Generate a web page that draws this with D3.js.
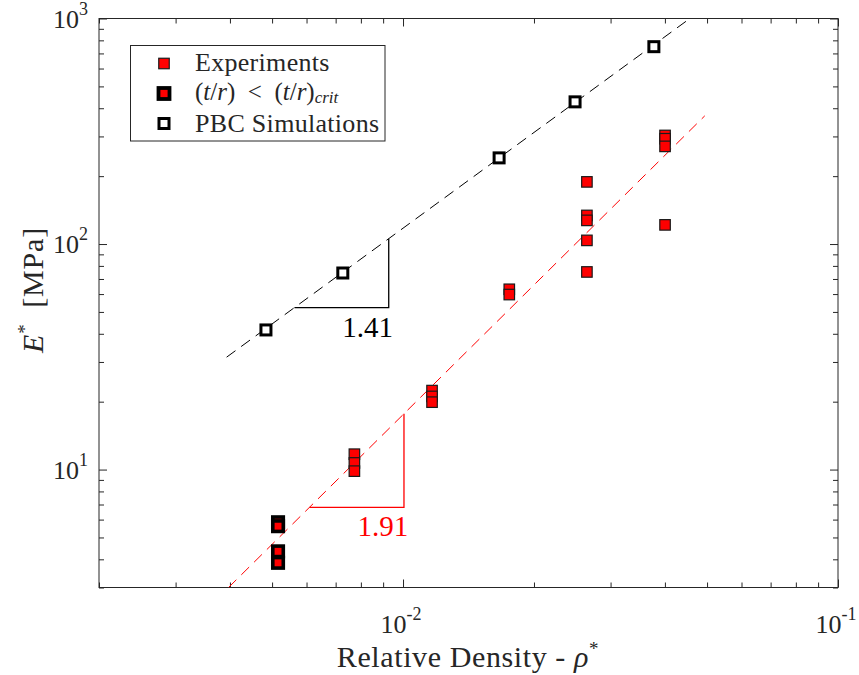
<!DOCTYPE html>
<html><head><meta charset="utf-8">
<script src="https://cdn.jsdelivr.net/npm/d3@7"></script>
<style>
body{margin:0;background:#fff}
svg{display:block}
text{font-family:"Liberation Serif","Times New Roman",serif;fill:#262626}
</style>
</head><body>
<svg id="chart" width="859" height="675"></svg>
<script>
// ---------- data ----------
const pbcDensity  = [0.00484, 0.00727, 0.01663, 0.02486, 0.03773];
const pbcModulus  = [41.6, 74.4, 241, 427, 750];

const expDensity  = [0.00773, 0.00773, 0.00773,
                     0.01166, 0.01166, 0.01166,
                     0.01755, 0.01755,
                     0.02647, 0.02647, 0.02647, 0.02647, 0.02647,
                     0.04003, 0.04003, 0.04003, 0.04003];
const expModulus  = [11.7, 10.7, 9.84,
                     22.4, 21.1, 19.9,
                     63.0, 59.7,
                     188.6, 133.9, 127.3, 103.8, 75.2,
                     303, 293, 271, 121.6];

const critDensity = [0.00516, 0.00516, 0.00516, 0.00516];
const critModulus = [5.84, 5.61, 4.34, 3.86];

// power-law fits: [PBC, Experiments]
const fitSlope        = [1.41, 1.91];
const fitStartDensity = [0.00393, 0.00397];
const fitStartModulus = [31.5, 3.0];
const fitEndDensity   = [0.06, 0.0494];
const fitColor        = ["#000000", "#ff0000"];
// slope triangles (x extent)
const triLeftDensity  = [0.005628, 0.006095];
const triRightDensity = [0.009271, 0.01005];

const xDomain = [0.002, 0.1];
const yDomain = [3, 1000];
const xTickValues = [0.01, 0.1];
const xTickExp    = ["-2", "-1"];
const yTickValues = [10, 100, 1000];
const yTickExp    = ["1", "2", "3"];

const legendLabels = ["Experiments", "crit", "PBC Simulations"];

// ---------- layout ----------
const svg = d3.select("#chart");
const L = 99, R = 838, T = 18.5, B = 587.5;
const x = d3.scaleLog().domain(xDomain).range([L, R]);
const y = d3.scaleLog().domain(yDomain).range([B, T]);
const axisColor = "#262626";

svg.append("defs").append("clipPath").attr("id","clip")
  .append("rect").attr("x",L).attr("y",T).attr("width",R-L).attr("height",B-T);

// ticks
const isMajor = v => Math.abs(Math.log10(v) - Math.round(Math.log10(v))) < 1e-9;
const xt = x.ticks(), yt = y.ticks();
const gAx = svg.append("g");
function tickAxis(axisFn, scale, vals, len, transform){
  gAx.append("g").attr("transform", transform)
    .call(axisFn(scale).tickValues(vals).tickSize(len).tickFormat(""))
    .call(g => g.select(".domain").remove())
    .call(g => g.selectAll("line").attr("stroke", axisColor).attr("stroke-width",1));
}
const xMaj = xt.filter(isMajor), xMin = xt.filter(v=>!isMajor(v));
const yMaj = yt.filter(isMajor), yMin = yt.filter(v=>!isMajor(v));
tickAxis(d3.axisBottom, x, xMaj, -8, `translate(0,${B})`);
tickAxis(d3.axisBottom, x, xMin, -5, `translate(0,${B})`);
tickAxis(d3.axisTop, x, xMaj, -8, `translate(0,${T})`);
tickAxis(d3.axisTop, x, xMin, -5, `translate(0,${T})`);
tickAxis(d3.axisLeft, y, yMaj, -8, `translate(${L},0)`);
tickAxis(d3.axisLeft, y, yMin, -5, `translate(${L},0)`);
tickAxis(d3.axisRight, y, yMaj, -8, `translate(${R},0)`);
tickAxis(d3.axisRight, y, yMin, -5, `translate(${R},0)`);

svg.append("rect").attr("x",L).attr("y",T).attr("width",R-L).attr("height",B-T)
  .attr("fill","none").attr("stroke",axisColor).attr("stroke-width",1);

// tick labels
xTickValues.forEach((v,i)=>{
  const t = svg.append("text").attr("x", x(v)-2).attr("y", 633).attr("text-anchor","middle")
    .style("font-size","26px");
  t.append("tspan").text("10");
  t.append("tspan").attr("dy",-13).style("font-size","18px").text(xTickExp[i]);
});
yTickValues.forEach((v,i)=>{
  const t = svg.append("text").attr("x", 88).attr("y", y(v)+9).attr("text-anchor","end")
    .style("font-size","26px");
  t.append("tspan").text("10");
  t.append("tspan").attr("dy",-13).style("font-size","18px").text(yTickExp[i]);
});

// axis titles
const xl = svg.append("text").attr("x", 468).attr("y", 667).attr("text-anchor","middle")
  .style("font-size","30px").style("letter-spacing","0.6px");
xl.append("tspan").text("Relative Density - ");
xl.append("tspan").style("font-style","italic").text("ρ");
xl.append("tspan").attr("dy",-12).style("font-size","19px").text("*");

const yl = svg.append("text").attr("transform","translate(43,290) rotate(-90)")
  .attr("text-anchor","middle").style("font-size","30px").style("letter-spacing","0.8px");
yl.append("tspan").style("font-style","italic").text("E");
yl.append("tspan").attr("dy",-12).style("font-size","19px").text("*");
yl.append("tspan").attr("dy",12).text("\u2002[MPa]");

// fit lines and slope triangles
const plot = svg.append("g").attr("clip-path","url(#clip)");
const lineGen = d3.line().x(d=>x(d[0])).y(d=>y(d[1]));
fitSlope.forEach((s,i)=>{
  const f = d => fitStartModulus[i]*Math.pow(d/fitStartDensity[i], s);
  plot.append("path")
    .attr("d", lineGen([[fitStartDensity[i], f(fitStartDensity[i])],[fitEndDensity[i], f(fitEndDensity[i])]]))
    .attr("fill","none").attr("stroke",fitColor[i]).attr("stroke-width",1)
    .attr("stroke-dasharray","11,7");
  const a = triLeftDensity[i], b = triRightDensity[i];
  svg.append("path")
    .attr("d", lineGen([[a, f(a)],[b, f(a)],[b, f(a)*Math.pow(b/a, s)]]))
    .attr("fill","none").attr("stroke",fitColor[i]).attr("stroke-width",1.3);
  svg.append("text").attr("x", x(b)-21).attr("y", y(f(a))+29).attr("text-anchor","middle")
    .style("font-size","29px").style("fill",fitColor[i]).text(d3.format(".2f")(s));
});

// markers
const mg = svg.append("g");
mg.selectAll(".pbc").data(pbcDensity).join("rect")
  .attr("x",(d,i)=>x(d)-5).attr("y",(d,i)=>y(pbcModulus[i])-5)
  .attr("width",10).attr("height",10)
  .attr("fill","#fff").attr("stroke","#000").attr("stroke-width",3);
mg.selectAll(".exp").data(expDensity).join("rect")
  .attr("x",(d,i)=>x(d)-5.25).attr("y",(d,i)=>y(expModulus[i])-5.25)
  .attr("width",10.5).attr("height",10.5)
  .attr("fill","#ff0000").attr("stroke","#1a1a1a").attr("stroke-width",1.2);
mg.selectAll(".crit").data(critDensity).join("rect")
  .attr("x",(d,i)=>x(d)-5.25).attr("y",(d,i)=>y(critModulus[i])-5.25)
  .attr("width",10.5).attr("height",10.5)
  .attr("fill","#ff0000").attr("stroke","#000").attr("stroke-width",3.6);

// legend
const lg = svg.append("g");
lg.append("rect").attr("x",130.5).attr("y",45.5).attr("width",254.5).attr("height",95.5)
  .attr("fill","#fff").attr("stroke",axisColor).attr("stroke-width",1);
const rowY = [63.5, 93.5, 123.5];
lg.append("rect").attr("x",164-5.25).attr("y",rowY[0]-5.25).attr("width",10.5).attr("height",10.5)
  .attr("fill","#ff0000").attr("stroke","#1a1a1a").attr("stroke-width",1.2);
lg.append("rect").attr("x",164-5.5).attr("y",rowY[1]-5.5).attr("width",11).attr("height",11)
  .attr("fill","#ff0000").attr("stroke","#000").attr("stroke-width",3.8);
lg.append("rect").attr("x",164-5).attr("y",rowY[2]-5).attr("width",10).attr("height",10)
  .attr("fill","#fff").attr("stroke","#000").attr("stroke-width",3);

const tx = 195;
lg.append("text").attr("x",tx).attr("y",rowY[0]+7).style("font-size","26px")
  .style("letter-spacing","0.3px").text(legendLabels[0]);
const t2 = lg.append("text").attr("x",tx).attr("y",rowY[1]+6).style("font-size","25px");
t2.append("tspan").text("(");
t2.append("tspan").style("font-style","italic").text("t");
t2.append("tspan").text("/");
t2.append("tspan").style("font-style","italic").text("r");
t2.append("tspan").text(")\u2002<\u2002(");
t2.append("tspan").style("font-style","italic").text("t");
t2.append("tspan").text("/");
t2.append("tspan").style("font-style","italic").text("r");
t2.append("tspan").text(")");
t2.append("tspan").attr("dy",3).style("font-size","17px").style("font-style","italic").text(legendLabels[1]);
lg.append("text").attr("x",tx).attr("y",rowY[2]+8).style("font-size","26px")
  .style("letter-spacing","0.3px").text(legendLabels[2]);
</script>
</body></html>
